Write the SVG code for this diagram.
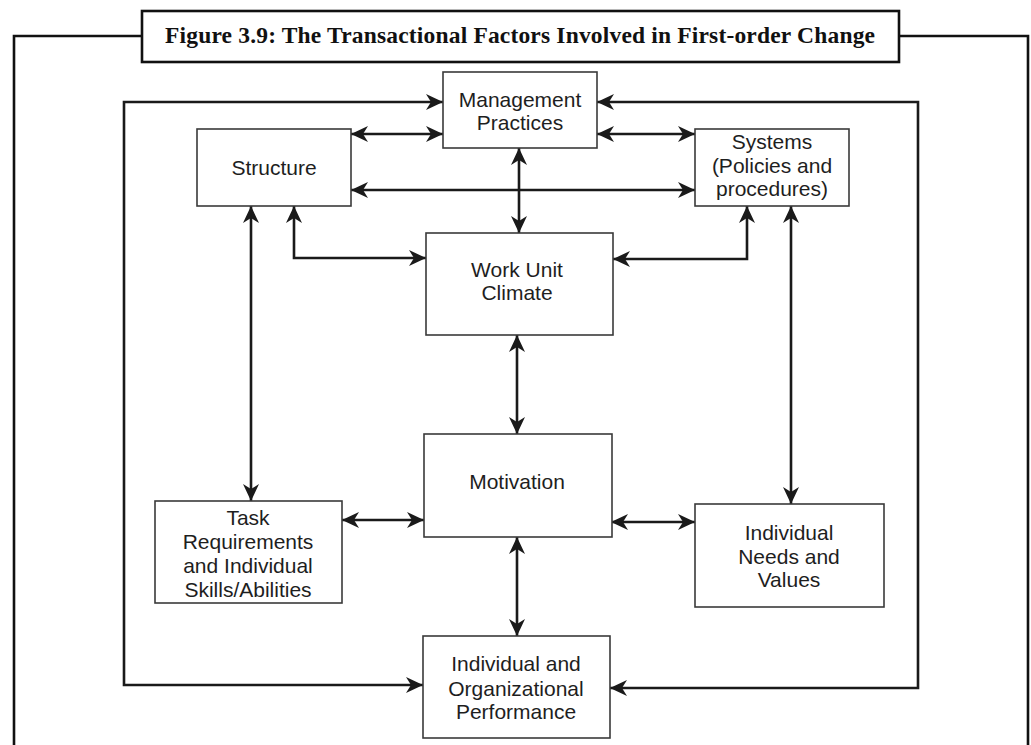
<svg xmlns="http://www.w3.org/2000/svg" width="1031" height="745" viewBox="0 0 1031 745">
<style>
.box{fill:#fff;stroke:#3a3a3a;stroke-width:1.6}
.lbl{font-family:"Liberation Sans",Arial,sans-serif;font-size:21px;fill:#1e1e1e;text-anchor:middle}
.con{fill:none;stroke:#1a1a1a;stroke-width:2.6;marker-start:url(#ah);marker-end:url(#ah)}
.frame{fill:none;stroke:#111;stroke-width:2.6}
</style>
<defs>
<marker id="ah" viewBox="0 0 17 16" refX="17" refY="8" markerWidth="17" markerHeight="16" markerUnits="userSpaceOnUse" orient="auto-start-reverse">
<path d="M0,0 L17,8 L0,16 L5,8 Z" fill="#1a1a1a"/>
</marker>
</defs>
<rect width="1031" height="745" fill="#fff"/>
<g id="frame">
<polyline class="frame" points="14,745 14,36 142,36"/>
<polyline class="frame" points="899,36 1028,36 1028,745"/>
<rect x="142" y="11" width="757" height="51" fill="#fff" stroke="#111" stroke-width="2.6"/>
<text x="520" y="43" font-family="Liberation Serif,Times New Roman,serif" font-weight="bold" font-size="23.5" text-anchor="middle" textLength="710" lengthAdjust="spacing" fill="#111">Figure 3.9: The Transactional Factors Involved in First-order Change</text>
</g>
<g id="connectors">
<path class="con" d="M423,685 L124,685 L124,102 L443,102"/>
<path class="con" d="M597,102 L918,102 L918,688 L610,688"/>
<path class="con" d="M351,134 L443,134"/>
<path class="con" d="M597,134 L695,134"/>
<path class="con" d="M351,190 L695,190"/>
<path class="con" d="M519,148 L519,233"/>
<path class="con" d="M251,206 L251,501"/>
<path class="con" d="M294,206 L294,258 L426,258"/>
<path class="con" d="M747,206 L747,259 L613,259"/>
<path class="con" d="M791,206 L791,504"/>
<path class="con" d="M517,335 L517,434"/>
<path class="con" d="M342,520 L424,520"/>
<path class="con" d="M611,522 L695,522"/>
<path class="con" d="M517,537 L517,636"/>
</g>
<g id="mgmt">
<rect class="box" x="443" y="72" width="154" height="76"/>
<text class="lbl" x="520" y="107">Management</text>
<text class="lbl" x="520" y="130">Practices</text>
</g>
<g id="structure">
<rect class="box" x="197" y="129" width="154" height="77"/>
<text class="lbl" x="274" y="175">Structure</text>
</g>
<g id="systems">
<rect class="box" x="695" y="129" width="154" height="77"/>
<text class="lbl" x="772" y="149">Systems</text>
<text class="lbl" x="772" y="173">(Policies and</text>
<text class="lbl" x="772" y="196">procedures)</text>
</g>
<g id="workunit">
<rect class="box" x="426" y="233" width="187" height="102"/>
<text class="lbl" x="517" y="277">Work Unit</text>
<text class="lbl" x="517" y="300">Climate</text>
</g>
<g id="motivation">
<rect class="box" x="424" y="434" width="188" height="103"/>
<text class="lbl" x="517" y="489">Motivation</text>
</g>
<g id="task">
<rect class="box" x="155" y="501" width="187" height="102"/>
<text class="lbl" x="248" y="525">Task</text>
<text class="lbl" x="248" y="549">Requirements</text>
<text class="lbl" x="248" y="573">and Individual</text>
<text class="lbl" x="248" y="597">Skills/Abilities</text>
</g>
<g id="needs">
<rect class="box" x="695" y="504" width="189" height="103"/>
<text class="lbl" x="789" y="540">Individual</text>
<text class="lbl" x="789" y="564">Needs and</text>
<text class="lbl" x="789" y="587">Values</text>
</g>
<g id="performance">
<rect class="box" x="423" y="636" width="187" height="102"/>
<text class="lbl" x="516" y="671">Individual and</text>
<text class="lbl" x="516" y="696">Organizational</text>
<text class="lbl" x="516" y="719">Performance</text>
</g>
</svg>
